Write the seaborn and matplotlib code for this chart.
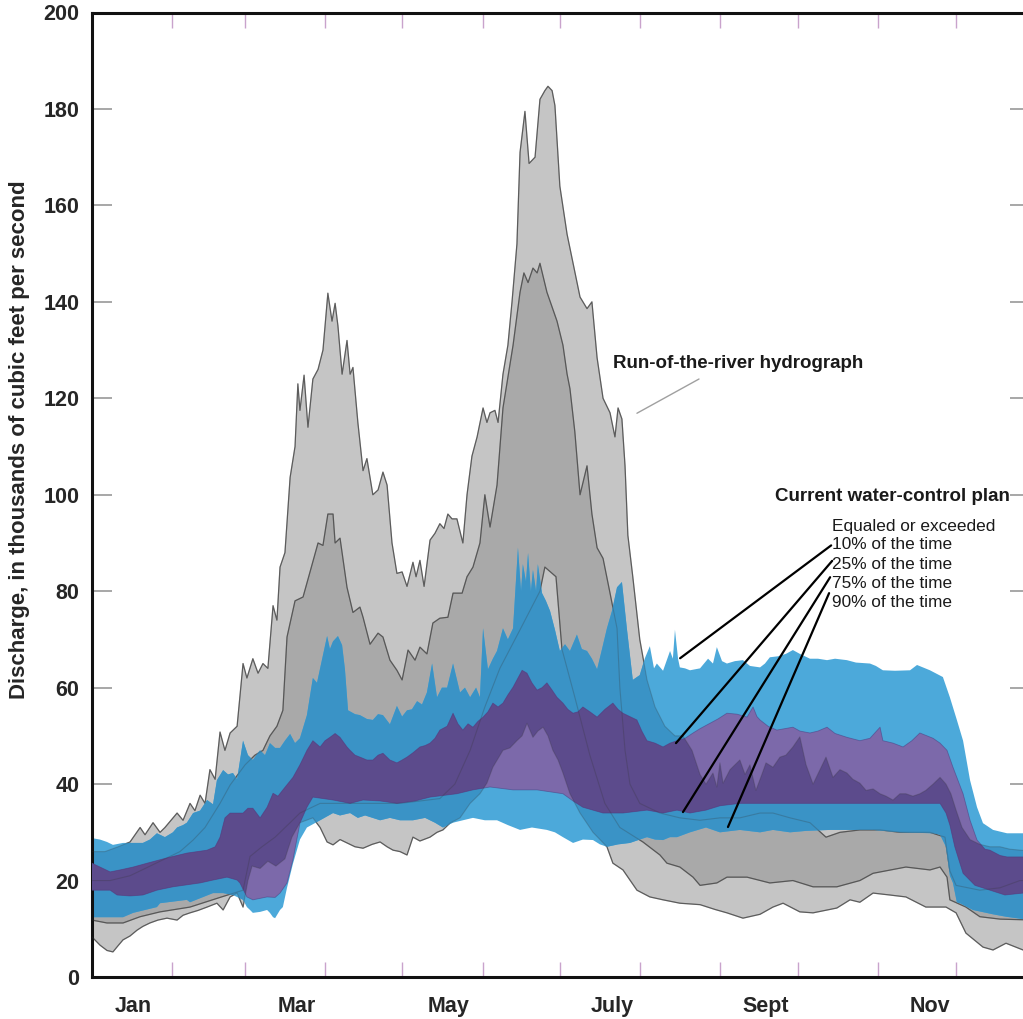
import numpy as np
import pandas as pd
import matplotlib
matplotlib.use("Agg")
import matplotlib.pyplot as plt
import seaborn as sns

# ---------------------------------------------------------------- data
# Discharge (thousands of ft3/s) by day of year, traced as vertex lists.
# Run-of-the-river hydrograph, equaled or exceeded 10, 25, 75, 90 % of the time
river_p10_day = [0, 5.0, 10.1, 14.7, 18.6, 20.5, 23.6, 26.3, 28.2, 32.9, 35.2, 37.9, 39.8,
                 41.8, 43.7, 45.6, 47.6, 49.5, 51.4, 53.4, 56.1, 58.4, 59.9, 62.2, 64.2,
                 66.1, 68.0, 70.0, 71.5, 72.7, 74.6, 76.6, 78.5, 79.6, 80.4, 82.0, 83.5,
                 85.4, 87.4, 89.3, 91.2, 92.8, 94.0, 95.1, 96.7, 98.6, 99.8, 100.9, 102.8,
                 104.8, 106.3, 108.6, 110.6, 112.5, 114.1, 116.0, 117.9, 119.9, 121.8,
                 124.1, 125.3, 126.8, 128.4, 130.7, 132.6, 134.5, 136.1, 137.6, 139.2,
                 141.1, 143.4, 145.0, 146.9, 148.9, 151.2, 152.7, 153.9, 155.8, 157.0,
                 158.9, 160.8, 162.4, 164.3, 165.5, 167.4, 169.0, 171.3, 173.2, 175.1,
                 176.3, 177.9, 179.0, 180.9, 183.7, 186.0, 188.7, 191.4, 193.3, 195.3,
                 197.6, 200.3, 202.2, 203.4, 204.9, 206.1, 207.2, 209.1, 211.8, 214.6,
                 217.7, 221.5, 225.4, 228.5, 232.0, 235.1, 237.4, 240.1, 241.6, 242.8,
                 244.0, 246.7, 250.5, 252.5, 254.4, 256.7, 259.0, 260.6, 263.3, 266.0,
                 268.3, 271.0, 273.7, 276.1, 278.8, 281.5, 283.8, 286.5, 289.2, 291.9,
                 294.2, 296.9, 299.3, 302.0, 304.7, 307.0, 309.7, 312.4, 314.7, 317.4,
                 320.1, 322.4, 325.2, 327.9, 330.2, 332.1, 334.1, 336.4, 339.5, 343.3,
                 347.2, 351.1, 354.9, 365]
river_p10_flow = [26, 26, 27, 28, 31, 29.5, 32, 30, 31, 34, 32.5, 36, 34.5,
                  37.7, 36, 43, 41, 50.8, 47, 50.6, 52, 65, 62, 66, 63,
                  65, 64, 77, 74, 85, 88, 103.6, 110, 123, 117.5, 124.8, 114,
                  124, 126, 130, 141.8, 136, 139.7, 135, 125, 132, 125, 126.4, 115,
                  105, 107.5, 100, 101, 104.7, 102, 90, 83.7, 84, 81,
                  86, 83, 86.4, 81, 90.6, 92, 94, 93, 96, 95,
                  95, 90, 100, 108, 112, 118, 115, 117, 117.5, 115,
                  125, 131, 140, 152, 171, 179.5, 168.7, 170, 182, 183.8,
                  184.7, 183.8, 180.7, 164, 154, 148, 141, 138.6, 140, 128.4,
                  120, 117, 112, 118, 115.7, 106, 91.6, 83, 70, 61.6,
                  56, 52, 50, 50, 47, 42, 40, 42.3, 39.4, 44.4,
                  40.2, 43, 45, 42, 44, 38.7, 42, 44.4, 43.5, 45.6,
                  46, 47.7, 49.8, 44, 40, 43, 45.6, 41.4, 43, 42.3,
                  41, 40.2, 38.7, 39, 38, 37.5, 36.7, 38, 38, 37.5,
                  38, 38.7, 40, 41.4, 40, 38, 34.6, 31, 28.5, 27.5,
                  27, 27, 26.5, 26]

river_p25_day = [0, 7.0, 14.7, 18.6, 26.3, 34.0, 39.1, 43.7, 49.5, 53.4, 59.2, 63.0,
                 66.1, 68.8, 71.5, 73.8, 75.4, 78.5, 81.6, 84.3, 87.4, 89.3, 91.2, 93.2,
                 94.0, 95.9, 98.6, 100.9, 103.6, 104.8, 107.5, 110.6, 112.5, 115.2,
                 117.9, 119.9, 122.2, 124.9, 126.8, 129.5, 131.8, 134.5, 137.6, 139.6,
                 143.1, 145.0, 147.3, 150.0, 151.9, 153.9, 156.6, 158.9, 162.8, 165.5,
                 167.0, 168.6, 170.5, 172.1, 173.2, 175.9, 179.8, 182.1, 183.7, 184.8,
                 186.7, 188.7, 191.4, 193.3, 195.3, 197.6, 200.3, 203.0, 204.1, 206.1,
                 208.0, 211.8, 219.6, 227.3, 235.1, 242.8, 250.5, 258.3, 263.3, 269.9,
                 277.6, 283.8, 289.2, 296.9, 304.7, 312.4, 324.0, 329.8, 331.7, 334.1,
                 343.3, 351.1, 358.8, 365]
river_p25_flow = [20, 20, 21, 22, 24, 26, 28.4, 31, 36, 39.8, 44, 46,
                  47, 50, 52, 55.3, 70.5, 78, 78.8, 84, 90, 89.5, 96, 96,
                  90, 91, 80.8, 75.6, 76.7, 74.6, 69, 71.3, 70.5, 65.7,
                  63.6, 61.6, 67.8, 65.7, 68.4, 67, 73.4, 74.4, 74.6, 79.6,
                  79.6, 83, 85, 90, 100, 93.3, 102, 118, 131, 142,
                  146, 144, 147, 146, 148, 142, 136, 131, 125, 122,
                  113, 100, 106, 96, 89, 86.8, 79.6, 72.3, 60, 47,
                  40, 36, 34, 33, 32.5, 33, 33, 34, 34, 33,
                  32, 29, 30, 30.5, 30.5, 30, 30, 29, 22, 19,
                  18, 18.5, 20, 20]

river_p75_day = [0, 5.8, 12.0, 18.6, 26.3, 37.9, 49.5, 58.4, 61.1, 65.7, 70.8, 76.6,
                 80.4, 88.2, 119.1, 134.5, 140.3, 146.2, 151.9, 157.7, 165.5, 173.2,
                 175.1, 179.4, 181.7, 186.7, 192.5, 198.3, 204.1, 213.0, 219.6, 222.3,
                 227.3, 232.4, 235.1, 241.6, 245.5, 253.3, 262.1, 271.0, 278.8, 288.0,
                 296.9, 302.0, 314.7, 324.0, 327.9, 330.6, 331.7, 337.9, 343.3, 351.1, 365]
river_p75_flow = [11.8, 11.2, 11.2, 12.5, 13.5, 14.5, 16.5, 18, 25, 27, 29, 32,
                  34, 36, 36, 37, 40, 47, 56, 64, 72, 80,
                  85, 83, 68, 58, 46, 36, 31, 28, 25.3, 23.6,
                  22.8, 20.7, 19, 19.5, 20.7, 20.7, 19.5, 20, 18.7, 18.7,
                  20, 21.5, 22.8, 22.2, 22.8, 20.7, 16, 14.5, 12.5, 12, 11.8]

river_p90_day = [0, 3.1, 5.8, 8.1, 10.1, 12.0, 14.7, 17.4, 19.7, 22.4, 25.5, 29.0,
                 32.9, 35.2, 37.9, 41.0, 44.5, 48.3, 50.7, 53.4, 56.1, 58.4, 60.3, 61.9,
                 65.0, 68.0, 71.1, 74.6, 77.3, 80.4, 85.4, 88.2, 90.9, 93.2, 95.9, 98.6,
                 101.7, 104.8, 108.3, 111.4, 114.1, 116.4, 119.1, 121.8, 124.1, 126.8,
                 130.7, 133.4, 135.7, 138.4, 142.3, 146.2, 150.0, 152.7, 155.0, 158.9,
                 161.6, 164.3, 166.3, 168.2, 170.5, 172.4, 174.4, 176.3, 178.2, 180.2,
                 182.1, 184.8, 188.7, 193.7, 199.1, 201.4, 205.3, 210.7, 215.7, 220.8,
                 227.3, 235.1, 240.9, 245.5, 251.7, 258.3, 263.3, 267.2, 273.7, 278.8,
                 288.0, 293.1, 296.9, 302.0, 308.5, 314.7, 322.4, 330.2, 334.1, 337.9,
                 344.5, 348.4, 353.4, 360.0, 365]
river_p90_flow = [8.3, 6.6, 5.5, 5.2, 6.5, 7.7, 8.5, 9.7, 10.5, 11.2, 11.8, 12.2,
                  11.8, 12.8, 13.3, 13.8, 14.5, 15.3, 13.9, 16.6, 17.4, 14.5, 20, 23,
                  22.5, 24, 23, 24.5, 29, 32, 33, 31, 28, 27.4, 28.5, 27.8,
                  27, 26.7, 27.5, 28, 27, 26.3, 26, 25.3, 29, 28.2,
                  29, 30, 30.5, 31.9, 33, 36, 38, 40.2, 43.5, 47,
                  47.5, 49, 50, 52.6, 49.7, 51, 51.8, 50, 47, 45,
                  42.3, 38, 34, 30, 27, 23.6, 22.2, 18, 16.6, 16,
                  15.3, 15, 14, 13.3, 12.2, 13, 14.5, 15.3, 13.5, 13.3,
                  14.3, 16, 15.5, 17.4, 17, 16.6, 14.5, 14.5, 13.3, 9.1,
                  6.2, 5.6, 7, 5.6, 6.5]

# Current water-control plan, equaled or exceeded 10, 25, 75, 90 % of the time
plan_p10_day = [0, 3.1, 5.8, 8.1, 12.0, 15.9, 19.7, 22.4, 25.1, 28.2, 31.3, 32.9, 35.2,
                36.7, 39.1, 41.8, 44.5, 46.8, 48.3, 50.7, 52.6, 54.5, 56.1, 58.4, 60.3,
                62.2, 64.2, 65.0, 66.9, 68.8, 70.8, 72.7, 74.6, 76.6, 78.5, 80.4, 83.1,
                85.4, 87.0, 88.2, 90.9, 92.0, 93.2, 95.1, 96.7, 97.8, 99.0, 101.7, 103.6,
                106.3, 108.6, 110.6, 112.5, 115.2, 117.9, 119.9, 121.8, 123.7, 125.7,
                127.6, 129.5, 131.5, 133.4, 135.3, 137.3, 139.6, 142.3, 144.2, 146.2,
                148.5, 150.0, 151.2, 153.1, 155.0, 156.6, 158.9, 160.8, 162.8, 164.7,
                165.9, 166.6, 167.8, 168.6, 169.7, 170.5, 171.7, 172.4, 174.0, 175.5,
                177.1, 179.0, 180.9, 182.9, 184.8, 187.5, 189.4, 191.4, 193.3, 195.3,
                197.2, 199.1, 201.1, 203.0, 204.9, 206.8, 209.1, 211.8, 213.7, 215.7,
                217.3, 218.4, 220.8, 223.5, 224.6, 225.4, 226.6, 227.3, 229.3, 231.2,
                235.1, 238.2, 240.1, 241.6, 243.6, 245.5, 248.6, 251.7, 254.4, 258.3,
                260.2, 262.1, 265.2, 268.3, 271.0, 273.7, 277.6, 280.7, 284.2, 287.3,
                291.9, 295.4, 300.8, 303.1, 305.8, 310.5, 316.3, 319.0, 324.0, 329.0,
                331.7, 334.4, 336.8, 339.5, 342.2, 344.5, 348.4, 353.8, 360.0, 365]
plan_p10_flow = [28.8, 28.5, 28, 27.4, 27.8, 27.8, 27.8, 28.5, 29.8, 29, 30, 31, 31.5,
                 32, 34, 34.5, 36.7, 35.8, 40.8, 42.9, 42, 42.3, 41, 49, 46,
                 45, 46.5, 47, 46, 48.5, 47.5, 47.5, 49, 50.4, 48.5, 49.5, 54.3,
                 62, 61, 64, 70.7, 68, 69.6, 70.7, 68.8, 63.8, 55.3, 54.5, 54.3,
                 53.5, 53.3, 54.5, 54.3, 52.4, 56.2, 54, 55.3, 55.5, 57.2,
                 56.5, 59, 65, 58, 60, 60, 65, 59, 60, 58,
                 60, 58, 72.3, 63.8, 66, 67.6, 72.3, 70, 72.3, 89,
                 80, 85.6, 82, 87.9, 80, 84.4, 80, 85.6, 79.6, 78,
                 75.9, 72, 67.6, 69, 67.6, 71, 68, 67.6, 66, 63.8,
                 68, 72.3, 76, 80.8, 81.9, 72.3, 61.6, 62.6, 66, 68.6,
                 64, 65, 63.5, 67.6, 66, 72, 66, 64.2, 64, 63.6,
                 64, 66, 65, 68.4, 65.5, 65, 65.5, 65.7, 64.5, 64.2,
                 65, 66.3, 66.5, 67, 67.8, 67, 66, 66, 65.7, 66,
                 65.7, 65.2, 65, 64.5, 63.6, 63.5, 63.6, 64.7, 63.6, 62.2,
                 58, 53.3, 49, 40.8, 35.2, 31.9, 30.5, 29.8, 29.8, 29.5]

plan_p25_day = [0, 3.1, 7.0, 10.8, 15.9, 21.3, 29.0, 36.7, 44.5, 47.6, 49.5, 51.4,
                53.4, 58.4, 60.3, 62.2, 65.0, 67.7, 70.0, 71.9, 73.8, 77.7, 80.4, 83.1,
                85.4, 88.2, 90.1, 92.0, 94.0, 95.9, 98.6, 99.8, 101.7, 103.6, 106.3,
                108.6, 110.6, 112.5, 115.2, 117.9, 119.9, 121.8, 124.1, 126.8, 128.8,
                130.7, 132.6, 134.5, 137.3, 139.6, 141.5, 143.4, 145.4, 147.3, 149.2,
                151.2, 153.1, 155.0, 157.0, 158.9, 160.8, 162.8, 164.7, 166.3, 168.2,
                170.1, 172.1, 174.0, 175.9, 177.9, 179.8, 182.1, 184.0, 186.0, 187.9,
                189.8, 192.5, 195.3, 198.3, 201.4, 203.4, 205.3, 208.0, 210.7, 212.6,
                214.6, 217.7, 220.8, 223.5, 226.2, 229.3, 232.4, 235.1, 238.9, 242.0,
                245.5, 249.4, 253.3, 255.6, 257.1, 258.3, 261.4, 264.8, 267.9, 271.0,
                273.7, 277.6, 280.7, 284.2, 287.3, 291.9, 296.9, 300.8, 304.7, 305.8,
                309.7, 313.6, 317.0, 320.1, 325.2, 327.9, 330.6, 332.9, 336.8, 339.5,
                342.2, 345.3, 347.2, 351.1, 353.8, 360.0, 365]
plan_p25_flow = [23.6, 22.8, 21.8, 22.2, 22.8, 23.6, 24.7, 25.7, 26.3, 27, 29, 33,
                 34, 34, 35, 35, 33, 35.2, 38.1, 37.5, 38.8, 41.4, 44, 47,
                 49, 47.7, 49, 49.7, 50.5, 49.7, 47.7, 47, 46, 45.6, 45,
                 45, 46, 46.4, 45, 44.4, 45, 45.6, 46.5, 47.7, 48,
                 48.5, 49.5, 51.2, 52, 54.7, 52.5, 51.2, 52.5, 51.8, 53,
                 53.9, 55, 56.8, 56, 56.8, 58.5, 60.1, 62, 63.6, 63,
                 61, 59.5, 60, 61, 59.5, 58, 56.8, 55.5, 54.7, 55,
                 56, 55, 53.9, 55.5, 56.8, 55.5, 54.7, 54, 53.3, 51,
                 49, 48.5, 47.7, 48.5, 49, 49.5, 50.6, 51.5, 52.6, 53.5,
                 54.7, 54.5, 53.9, 56, 54, 53.3, 52, 51.2, 51.5, 51.8,
                 51, 50.6, 51, 51.8, 50.5, 49.7, 49, 49.5, 51.8, 49,
                 48.5, 47.7, 49, 50.6, 49.5, 48.5, 47, 43.5, 38, 32.5,
                 28.4, 26.5, 26.3, 25.2, 24.9, 24.9, 24.5]

plan_p75_day = [0, 7.0, 9.7, 14.7, 19.7, 25.1, 31.3, 41.8, 46.8, 52.2, 56.1, 57.2,
                59.9, 62.2, 67.7, 70.8, 72.7, 75.4, 77.7, 80.4, 83.1, 85.4, 93.2, 99.8,
                104.8, 111.4, 117.9, 124.9, 130.7, 141.1, 147.3, 153.9, 162.8, 172.1,
                182.1, 186.0, 189.8, 197.6, 205.3, 214.6, 220.8, 226.2, 231.2, 237.4,
                242.8, 250.5, 263.3, 276.1, 289.2, 302.0, 327.9, 330.2, 331.7, 333.6,
                336.8, 341.4, 347.2, 353.0, 360.0, 365]
plan_p75_flow = [18, 18, 17, 16.8, 17, 18, 18.7, 19.5, 20.1, 20.7, 20.1, 19.5,
                 16.6, 16, 16.6, 16.5, 17.4, 19.5, 24.3, 31.9, 35.2, 37.3, 36.7, 36,
                 36.7, 36.5, 36, 36.5, 37.3, 38, 38.8, 39.4, 38.8, 38.8,
                 38, 36.5, 35.2, 34, 34, 34.6, 34, 34.6, 34, 34.6,
                 35.5, 36, 36, 36, 36, 36, 36, 34, 31.5, 27,
                 21.5, 19, 18, 17, 17.4, 17.5]

plan_p90_day = [0, 7.0, 12.0, 15.9, 25.1, 26.3, 36.7, 37.9, 46.8, 50.7, 54.5, 58.4,
                59.9, 61.1, 62.2, 65.0, 67.7, 68.8, 70.0, 70.8, 72.7, 73.8, 75.4, 77.7,
                80.4, 83.1, 88.2, 93.2, 95.9, 99.8, 102.8, 105.6, 111.4, 115.2, 119.1,
                124.1, 128.8, 132.6, 135.7, 139.6, 143.4, 147.3, 151.9, 156.6, 160.8,
                165.5, 170.1, 175.9, 179.0, 182.1, 186.0, 189.8, 193.7, 196.4, 199.1,
                203.4, 208.0, 211.8, 214.6, 217.7, 220.8, 223.5, 226.2, 231.2, 237.4,
                242.8, 250.5, 258.3, 263.3, 269.9, 276.1, 285.3, 293.1, 302.0, 312.4,
                325.2, 327.9, 330.2, 331.7, 332.9, 334.4, 335.6, 340.6, 348.4, 353.4,
                360.0, 365]
plan_p90_flow = [12.4, 12.4, 12.4, 13.3, 14.5, 15.3, 16, 15.5, 17.4, 17.4, 17, 16,
                 14.5, 13.9, 13.3, 13.5, 13.9, 13.3, 12.4, 12.2, 13.9, 14.5, 18.5, 23.5,
                 28.5, 31, 32.5, 34, 33.5, 34, 33, 33.5, 32.5, 33, 32.5,
                 32.5, 33, 32, 31, 32, 32.5, 33, 32.5, 32.5, 31.5,
                 30.5, 31, 30.5, 30, 29, 27.8, 28.5, 28.4, 27.5, 27,
                 27.5, 27.8, 28.5, 29, 28.5, 28.4, 29, 29, 30, 31,
                 30, 30.5, 30, 30.5, 30, 30.3, 30.5, 30.5, 30.5, 30,
                 29.8, 29.5, 27, 21, 19.5, 15.5, 15.3, 13.9, 13, 12.5,
                 12, 12]

month_starts = [31, 59, 90, 120, 151, 181, 212, 243, 273, 304, 334]
month_labels = ["Jan", "Mar", "May", "July", "Sept", "Nov"]
month_label_days = [16, 79, 138, 201, 260.5, 324]
y_ticks = list(range(0, 201, 20))

percent_labels = ["10% of the time", "25% of the time",
                  "75% of the time", "90% of the time"]

# ---------------------------------------------------------------- style
sns.set_style("white")
plt.rcParams["font.family"] = ["Liberation Sans", "DejaVu Sans"]
plt.rcParams["axes.linewidth"] = 2.2

RIVER_OUTER = "#C5C5C5"
RIVER_INNER = "#A9A9A9"
BLUE = "#4CA9DA"          # plan 10-90 % band over open background
BLUE_SHADED = "#3A93C6"   # same band where it overlies the river hydrograph
PURPLE = "#7C69AA"        # plan 25-75 % band over open background
PURPLE_SHADED = "#5C4B8C" # same band where it overlies the river hydrograph


def band(ax, upper_day, upper, lower_day, lower, **kw):
    """Fill the region between two traced curves as one polygon."""
    xs = np.concatenate([upper_day, lower_day[::-1]])
    ys = np.concatenate([upper, lower[::-1]])
    return ax.fill(xs, ys, lw=0, **kw)[0]


fig = plt.figure(figsize=(10.23, 10.19), dpi=100)
ax = fig.add_axes([92 / 1023, 42 / 1019, 944 / 1023, 964.5 / 1019])

# run-of-the-river hydrograph bands
river_outer = band(ax, river_p10_day, river_p10_flow, river_p90_day, river_p90_flow,
                   color=RIVER_OUTER, zorder=1)
band(ax, river_p25_day, river_p25_flow, river_p75_day, river_p75_flow,
     color=RIVER_INNER, zorder=1.5)

# current water-control plan bands, darker where they overlie the hydrograph
band(ax, plan_p10_day, plan_p10_flow, plan_p90_day, plan_p90_flow,
     color=BLUE, zorder=2)
blue_dark = band(ax, plan_p10_day, plan_p10_flow, plan_p90_day, plan_p90_flow,
                 color=BLUE_SHADED, zorder=2.5)
blue_dark.set_clip_path(river_outer)
band(ax, plan_p25_day, plan_p25_flow, plan_p75_day, plan_p75_flow,
     color=PURPLE, zorder=3)
purple_dark = band(ax, plan_p25_day, plan_p25_flow, plan_p75_day, plan_p75_flow,
                   color=PURPLE_SHADED, zorder=3.5)
purple_dark.set_clip_path(river_outer)

# outlines of the hydrograph bands: solid on the grey, faint through the plan bands
river_edges = pd.concat([
    pd.DataFrame({"day": d, "flow": f, "curve": name})
    for name, d, f in [("p10", river_p10_day, river_p10_flow),
                       ("p25", river_p25_day, river_p25_flow),
                       ("p75", river_p75_day, river_p75_flow),
                       ("p90", river_p90_day, river_p90_flow)]
], ignore_index=True)
sns.lineplot(data=river_edges, x="day", y="flow", units="curve",
             estimator=None, color="#555555", lw=0.9, alpha=0.85,
             zorder=1.8, ax=ax, legend=False)
sns.lineplot(data=river_edges, x="day", y="flow", units="curve",
             estimator=None, color="#333333", lw=0.8, alpha=0.25,
             zorder=5, ax=ax, legend=False)
plan_edges = pd.concat([
    pd.DataFrame({"day": d, "flow": f, "curve": name})
    for name, d, f in [("p25", plan_p25_day, plan_p25_flow),
                       ("p75", plan_p75_day, plan_p75_flow)]
], ignore_index=True)
sns.lineplot(data=plan_edges, x="day", y="flow", units="curve",
             estimator=None, color="#45377a", lw=0.6, alpha=0.5,
             zorder=5, ax=ax, legend=False)

# ---------------------------------------------------------------- axes
ax.set_xlim(0, 365)
ax.set_ylim(0, 200)
ax.set_xlabel("")
ax.set_ylabel("")

ax.set_xticks(month_starts)
ax.set_xticklabels([])
ax.set_xticks(month_label_days, minor=True)
ax.set_xticklabels(month_labels, minor=True, fontsize=15.5, fontweight="bold")
ax.tick_params(axis="x", which="major", direction="in", length=10.5, width=1.0,
               color="#c9a3cc", top=True, bottom=True)
ax.tick_params(axis="x", which="minor", length=0, pad=14)

ax.set_yticks(y_ticks)
ax.set_yticklabels([str(v) for v in y_ticks], fontsize=15.5, fontweight="bold")
ax.tick_params(axis="y", direction="in", length=14.5, width=1.3,
               color="#a0a0a0", left=True, right=True, pad=9)
for tick in ax.yaxis.get_major_ticks():
    tick.tick2line.set_markersize(19)

for side in ["left", "bottom", "top", "right"]:
    ax.spines[side].set_color("#111111")
    ax.spines[side].set_linewidth(2.2)

fig.text(20 / 1023, 1 - 440 / 1019,
         "Discharge, in thousands of cubic feet per second",
         rotation=90, ha="center", va="center", fontsize=16, fontweight="bold")

# ---------------------------------------------------------------- annotations
ax.text(201.4, 127.3, "Run-of-the-river hydrograph", fontsize=13.5,
        fontweight="bold", ha="left", va="center", color="#1a1a1a", zorder=8)
ax.plot([210.7, 234.7], [116.9, 124.0], color="#a0a0a0", lw=1.0, zorder=8)

ax.text(264.1, 99.7, "Current water-control plan", fontsize=13.5,
        fontweight="bold", ha="left", va="center", color="#1a1a1a", zorder=8)
ax.text(286.1, 93.5, "Equaled or exceeded", fontsize=12.4,
        ha="left", va="center", color="#1a1a1a", zorder=8)

label_levels = [89.6, 85.6, 81.7, 77.6]
leader_start = [(285.8, 89.5), (286.2, 86.3), (285.4, 82.9), (285.0, 79.6)]
leader_end = [(227.4, 66.1), (225.8, 48.5), (228.5, 34.2), (245.9, 31.1)]
for text, level, (x0, y0), (x1, y1) in zip(percent_labels, label_levels,
                                            leader_start, leader_end):
    ax.text(286.1, level, text, fontsize=12.4, ha="left", va="center",
            color="#1a1a1a", zorder=8)
    ax.plot([x0, x1], [y0, y1], color="black", lw=1.6, zorder=8,
            solid_capstyle="round")

fig.savefig("out.png", dpi=100)
